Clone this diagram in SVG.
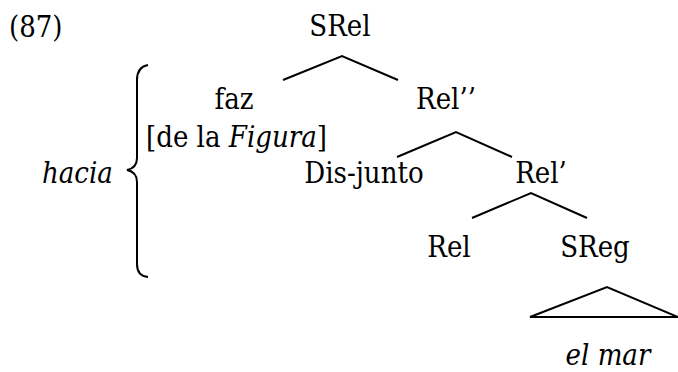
<svg xmlns="http://www.w3.org/2000/svg" width="678" height="372" viewBox="0 0 678 372">
<style>
text{font-family:'DejaVu Serif Condensed','DejaVu Serif',serif;font-stretch:condensed;font-size:29px;fill:#000}
.m{text-anchor:middle}
.i{font-style:italic}
.ln{stroke:#000;stroke-width:2;fill:none}
</style>
<rect width="678" height="372" fill="#fff"/>
<text x="9" y="37">(87)</text>
<g id="connectors">
<polyline class="ln" points="283,80 342,56 398,80"/>
<polyline class="ln" points="397,157 456,132 512,157"/>
<polyline class="ln" points="472,218 531,193 587,218"/>
<polygon class="ln" points="530,317 607,287 678,317"/>
<path class="ln" stroke-width="1.8" d="M148,65 Q137,67 137,80 L137,158 Q137,168 127,170 Q137,172 137,182 L137,264 Q137,276 148,277"/>
</g>
<g id="n-srel"><text class="m" x="340" y="36">SRel</text></g>
<g id="n-faz"><text class="m" x="234" y="109">faz</text></g>
<g id="n-figura"><text x="146" y="147">[de la <tspan class="i">Figura</tspan>]</text></g>
<g id="n-hacia"><text class="i" x="42" y="183">hacia</text></g>
<g id="n-relpp"><text class="m" x="446" y="109">Rel’’</text></g>
<g id="n-disjunto"><text class="m" x="364" y="183">Dis-junto</text></g>
<g id="n-relp"><text class="m" x="541" y="183">Rel’</text></g>
<g id="n-rel"><text class="m" x="449" y="257">Rel</text></g>
<g id="n-sreg"><text class="m" x="595" y="257">SReg</text></g>
<g id="n-elmar"><text class="m i" x="608" y="365">el mar</text></g>
</svg>
